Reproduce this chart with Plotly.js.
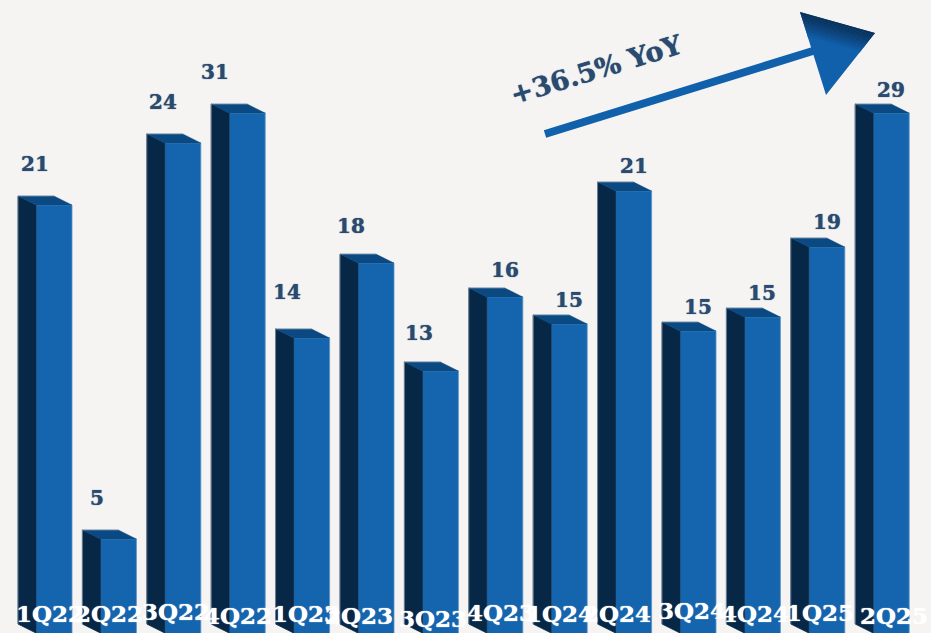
<!DOCTYPE html>
<html><head><meta charset="utf-8">
<script src="https://cdn.plot.ly/plotly-3.0.1.min.js"></script>
<style>html,body{margin:0;padding:0;background:#f5f4f3;overflow:hidden}#c{width:931px;height:633px}</style>
</head><body><div id="c"></div>
<script>
const categories = ["1Q22","2Q22","3Q22","4Q22","1Q23","2Q23","3Q23","4Q23","1Q24","2Q24","3Q24","4Q24","1Q25","2Q25"];
const valueLabels = ["21","5","24","31","14","18","13","16","15","21","15","15","19","29"];
const barHeights = [20.98,5.0,23.95,25.38,14.62,18.2,13.04,16.58,15.29,21.65,14.95,15.62,18.97,25.38];

// placement of the hand-placed labels, in pixels relative to each bar
const valueShiftX = [-19,-21,-20,-32,-25,-25,-21,0,0,0,0,0,0,0];
const valueShiftY = [41,41,41,41,46,37,38,27,24,25,24,24,25,23];
const catShiftX = [-4,-9,-7,-9,-6,-17,-7,-4,-9,-17,-6,-7,-7,3];
const catCenterY = [613,613,611,615,613,615,618,612,613,613,610,613,612,615];

const W = 931, H = 633;
const xUnit = 64.4, yUnit = 20.9;
const yBottom = (643.5 - H) / yUnit, yTop = 643.5 / yUnit;
const barW = 36 / xUnit, depthX = 18 / xUnit, depthY = 9 / yUnit;
const xs = categories.map((_, i) => i);
const edge = i => i - barW / 2;

const traces = [];
categories.forEach((c, i) => {
  const l = edge(i), r = l + barW, t = barHeights[i];
  traces.push({type:'scatter',mode:'lines',fill:'toself',fillcolor:'#062745',hoverinfo:'skip',showlegend:false,
    line:{color:'#062745',width:0.8},
    x:[l-depthX,l,l,l-depthX,l-depthX], y:[t+depthY,t,yBottom,yBottom+depthY,t+depthY]});
  traces.push({type:'scatter',mode:'lines',fill:'toself',fillcolor:'#0a4982',hoverinfo:'skip',showlegend:false,
    line:{color:'#0a4982',width:0.4},
    x:[l-depthX,r-depthX,r,l,l-depthX], y:[t+depthY,t+depthY,t,t,t+depthY]});
  traces.push({type:'scatter',mode:'lines',hoverinfo:'skip',showlegend:false,
    line:{color:'#8a9cae',width:0.7},
    x:[l-depthX,l-depthX,r-depthX], y:[yBottom+depthY,t+depthY,t+depthY]});
});
traces.push({type:'bar',x:xs,y:barHeights,width:barW,hoverinfo:'skip',showlegend:false,
  marker:{color:'#1465ae',line:{color:'#5b93c8',width:0.8}}});

const serif = '"DejaVu Serif", serif';
const annotations = [];
categories.forEach((c, i) => {
  annotations.push({x:i,y:barHeights[i],xref:'x',yref:'y',xshift:valueShiftX[i],yshift:valueShiftY[i],
    text:'<b>'+valueLabels[i]+'</b>',showarrow:false,xanchor:'center',yanchor:'middle',
    font:{family:serif,size:20,color:'#2b4a6f',shadow:'0 0 1px #2b4a6f'}});
  annotations.push({x:i,y:yBottom,xref:'x',yref:'y',xshift:catShiftX[i],yshift:H-catCenterY[i],
    text:'<b>'+c+'</b>',showarrow:false,xanchor:'center',yanchor:'middle',
    font:{family:serif,size:23,color:'#ffffff',shadow:'0 0 1px #ffffff'}});
});
annotations.push({x:596/W,y:1-69/H,xref:'paper',yref:'paper',text:'<b>+36.5% YoY</b>',textangle:-17,
  showarrow:false,xanchor:'center',yanchor:'middle',font:{family:serif,size:27,color:'#2b4a6f',shadow:'0 0 1px #2b4a6f'}});

const px = p => [p[0]/W, 1-p[1]/H];
const path = pts => 'M'+pts.map(p=>px(p).join(',')).join('L')+'Z';
const A=[800,12],B=[875,33],C=[826,95];
const mix=(a,b,t)=>[a[0]+(b[0]-a[0])*t,a[1]+(b[1]-a[1])*t];
const shapes=[
  {type:'line',xref:'paper',yref:'paper',x0:545/W,y0:1-134/H,x1:816/W,y1:1-50/H,line:{color:'#1160ac',width:8}},
  {type:'path',xref:'paper',yref:'paper',path:path([A,B,C]),fillcolor:'#1160ac',line:{width:0}}
];
const N=14, dark=[10,48,88], blue=[17,96,172];
for(let k=0;k<N;k++){
  const t0=k/N*0.32,t1=(k+1)/N*0.32,f=Math.pow(k/(N-1),1.3);
  const col=dark.map((d,j)=>Math.round(d+(blue[j]-d)*f));
  shapes.push({type:'path',xref:'paper',yref:'paper',
    path:path([mix(A,C,t0),mix(B,C,t0),mix(B,C,t1),mix(A,C,t1)]),
    fillcolor:'rgb('+col.join(',')+')',line:{width:0}});
}

Plotly.newPlot('c',traces,{
  width:W,height:H,margin:{l:0,r:0,t:0,b:0,pad:0},
  paper_bgcolor:'#f5f4f3',plot_bgcolor:'#f5f4f3',
  xaxis:{range:[-54/xUnit,(W-54)/xUnit],showgrid:false,zeroline:false,showticklabels:false,ticks:'',showline:false,fixedrange:true},
  yaxis:{range:[yBottom,yTop],showgrid:false,zeroline:false,showticklabels:false,ticks:'',showline:false,fixedrange:true},
  annotations,shapes,showlegend:false
},{displayModeBar:false,staticPlot:true});
</script></body></html>
